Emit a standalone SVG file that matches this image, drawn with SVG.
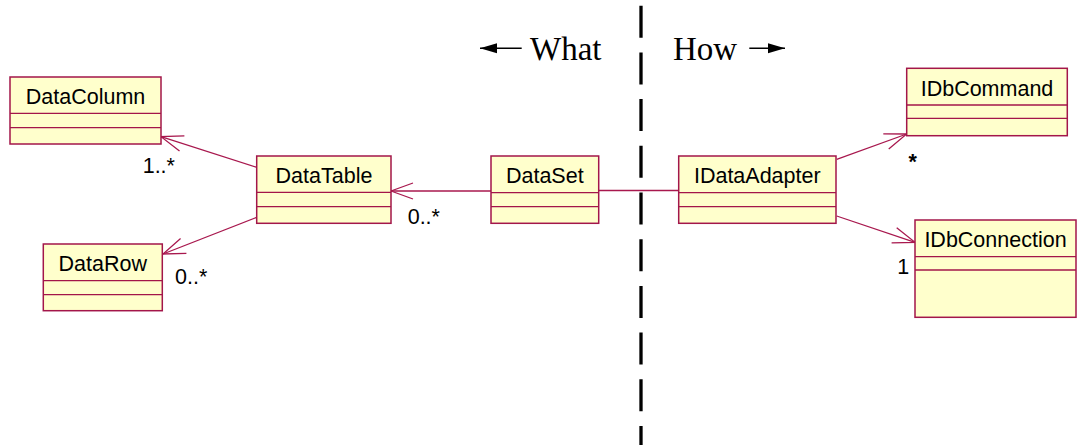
<svg xmlns="http://www.w3.org/2000/svg" width="1083" height="445" viewBox="0 0 1083 445">
<style>
.box{fill:#FFFFCC;stroke:#A3164A;stroke-width:1.5}
.div{stroke:#A3164A;stroke-width:1.3}
.name{font-family:"Liberation Sans",Arial,sans-serif;font-size:21.5px;fill:#000;text-anchor:middle}
.lbl{font-family:"Liberation Sans",Arial,sans-serif;font-size:21.5px;fill:#000}
.conn{stroke:#A8184E;stroke-width:1.3;fill:none}
.serif{font-family:"Liberation Serif","Times New Roman",serif;font-size:33px;fill:#000}
</style>
<defs>
<marker id="open" viewBox="0 0 24 18" refX="23" refY="9" markerWidth="24" markerHeight="18" markerUnits="userSpaceOnUse" orient="auto">
<path d="M1,1 L23,9 L1,17" fill="none" stroke="#A8184E" stroke-width="1.3"/>
</marker>
<marker id="solid" viewBox="0 0 18 12" refX="17" refY="6" markerWidth="18" markerHeight="12" markerUnits="userSpaceOnUse" orient="auto">
<path d="M0,1 L17,6 L0,11 Z" fill="#000"/>
</marker>
</defs>
<line x1="641" y1="-41" x2="641" y2="445" stroke="#000" stroke-width="3.3" stroke-dasharray="32 14.7"/>
<g id="header">
<text class="serif" x="530" y="60">What</text>
<line x1="521.7" y1="48.3" x2="480" y2="48.3" stroke="#000" stroke-width="1.5" marker-end="url(#solid)"/>
<text class="serif" x="673" y="60">How</text>
<line x1="749.3" y1="48.3" x2="785" y2="48.3" stroke="#000" stroke-width="1.5" marker-end="url(#solid)"/>
</g>
<g id="connectors">
<line class="conn" x1="491" y1="191" x2="391" y2="191" marker-end="url(#open)"/>
<line class="conn" x1="256.7" y1="167.3" x2="161" y2="136.7" marker-end="url(#open)"/>
<line class="conn" x1="256.7" y1="217.3" x2="163" y2="254" marker-end="url(#open)"/>
<line class="conn" x1="599" y1="190.5" x2="679" y2="190.5"/>
<line class="conn" x1="836.7" y1="159.3" x2="906.7" y2="134" marker-end="url(#open)"/>
<line class="conn" x1="836.7" y1="216" x2="915" y2="242.3" marker-end="url(#open)"/>
<text class="lbl" x="142.7" y="172.7">1..*</text>
<text class="lbl" x="407.7" y="224.3">0..*</text>
<text class="lbl" x="175" y="284">0..*</text>
<text class="lbl" x="908.5" y="169" font-weight="bold">*</text>
<text class="lbl" x="897.3" y="274.3">1</text>
</g>
<g id="DataColumn">
<rect class="box" x="10" y="77" width="151" height="67"/>
<line class="div" x1="10" y1="113.3" x2="161" y2="113.3"/>
<line class="div" x1="10" y1="127.7" x2="161" y2="127.7"/>
<text class="name" x="85.5" y="104.3">DataColumn</text>
</g>
<g id="DataTable">
<rect class="box" x="256.7" y="156" width="134.3" height="67.3"/>
<line class="div" x1="256.7" y1="192.3" x2="391" y2="192.3"/>
<line class="div" x1="256.7" y1="206.7" x2="391" y2="206.7"/>
<text class="name" x="324" y="182.7">DataTable</text>
</g>
<g id="DataRow">
<rect class="box" x="43.3" y="244" width="119" height="66.7"/>
<line class="div" x1="43.3" y1="280.7" x2="162.3" y2="280.7"/>
<line class="div" x1="43.3" y1="294.7" x2="162.3" y2="294.7"/>
<text class="name" x="102.8" y="270.7">DataRow</text>
</g>
<g id="DataSet">
<rect class="box" x="491" y="156" width="107.7" height="67.3"/>
<line class="div" x1="491" y1="192.7" x2="598.7" y2="192.7"/>
<line class="div" x1="491" y1="206.7" x2="598.7" y2="206.7"/>
<text class="name" x="544.8" y="182.7">DataSet</text>
</g>
<g id="IDataAdapter">
<rect class="box" x="678.7" y="156" width="157.3" height="67.3"/>
<line class="div" x1="678.7" y1="192.7" x2="836" y2="192.7"/>
<line class="div" x1="678.7" y1="206.7" x2="836" y2="206.7"/>
<text class="name" x="757.3" y="182.7">IDataAdapter</text>
</g>
<g id="IDbCommand">
<rect class="box" x="906.7" y="68.3" width="160.6" height="67.4"/>
<line class="div" x1="906.7" y1="105" x2="1067.3" y2="105"/>
<line class="div" x1="906.7" y1="118.3" x2="1067.3" y2="118.3"/>
<text class="name" x="987" y="96">IDbCommand</text>
</g>
<g id="IDbConnection">
<rect class="box" x="915" y="220" width="161" height="97.3"/>
<line class="div" x1="915" y1="256.7" x2="1076" y2="256.7"/>
<line class="div" x1="915" y1="270" x2="1076" y2="270"/>
<text class="name" x="995.5" y="247.3">IDbConnection</text>
</g>
</svg>
